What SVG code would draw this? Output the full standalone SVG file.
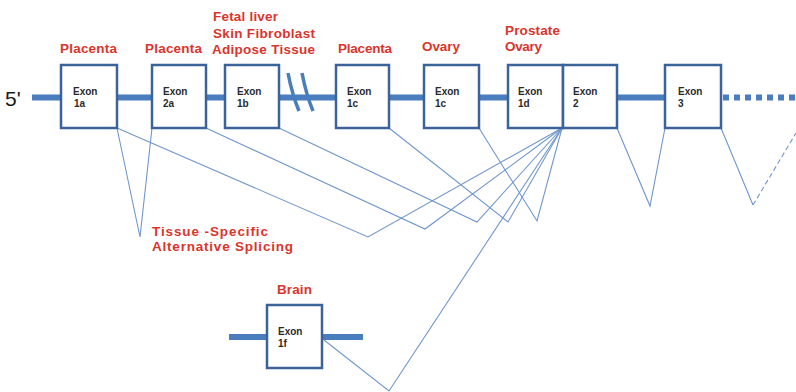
<svg xmlns="http://www.w3.org/2000/svg" width="796" height="392" viewBox="0 0 796 392">
<style>
.bb{stroke:#4a7dbd;stroke-width:6;fill:none}
.ex{fill:#fff;stroke:#3b639a;stroke-width:2.5}
.et{font-family:"Liberation Sans",Arial,sans-serif;font-size:10px;font-weight:bold;fill:#2a2a2a}
.lb{font-family:"Liberation Sans",Arial,sans-serif;font-size:13.5px;font-weight:bold;fill:#d9352c}
.sp{stroke:#7096cc;stroke-width:1.1;fill:none}
</style>
<rect width="796" height="392" fill="#fff"/>
<text x="5" y="106" font-family="Liberation Sans,Arial,sans-serif" font-size="21" fill="#1a1a1a">5'</text>
<g id="backbone">
<path class="bb" d="M32,97.5H61M117,97.5H152M206,97.5H225M279,97.5H336M389,97.5H424M479,97.5H508M617,97.5H665"/>
<path class="bb" d="M723,97.5H796" stroke-dasharray="6,5"/>
<path d="M288,73Q292,94 299,111M302,73Q306,94 313,111" stroke="#4a7dbd" stroke-width="3.5" fill="none"/>
<path class="bb" d="M229,337H267M322,337H363"/>
</g>
<g id="connectors">
<polyline class="sp" points="117,128 140,237 152,128"/>
<polyline class="sp" points="117,128 368,237 562,128"/>
<polyline class="sp" points="206,128 425,229 562,128"/>
<polyline class="sp" points="279,128 477,222 562,128"/>
<polyline class="sp" points="389,128 508,222 562,128"/>
<polyline class="sp" points="479,128 537,221 562,128"/>
<polyline class="sp" points="324,340 389,391 562,128"/>
<polyline class="sp" points="617,128 650,206 665,128"/>
<polyline class="sp" points="721,128 753,205"/>
<polyline class="sp" points="753,205 796,133" stroke-dasharray="5,3"/>
</g>
<g id="exon1a"><rect class="ex" x="61" y="65" width="56" height="63"/><text class="et" x="73" y="95">Exon</text><text class="et" x="74" y="107">1a</text></g>
<g id="exon2a"><rect class="ex" x="152" y="65" width="54" height="63"/><text class="et" x="163" y="95">Exon</text><text class="et" x="163" y="107">2a</text></g>
<g id="exon1b"><rect class="ex" x="225" y="65" width="54" height="63"/><text class="et" x="237" y="95">Exon</text><text class="et" x="237" y="107">1b</text></g>
<g id="exon1c"><rect class="ex" x="336" y="65" width="53" height="63"/><text class="et" x="347" y="95">Exon</text><text class="et" x="347" y="107">1c</text></g>
<g id="exon1c2"><rect class="ex" x="424" y="65" width="55" height="63"/><text class="et" x="435" y="95">Exon</text><text class="et" x="435" y="107">1c</text></g>
<g id="exon1d"><rect class="ex" x="508" y="65" width="55" height="63"/><text class="et" x="518" y="95">Exon</text><text class="et" x="518" y="107">1d</text></g>
<g id="exon2"><rect class="ex" x="563" y="65" width="54" height="63"/><text class="et" x="573" y="95">Exon</text><text class="et" x="573" y="107">2</text></g>
<g id="exon3"><rect class="ex" x="665" y="65" width="56" height="63"/><text class="et" x="678" y="95">Exon</text><text class="et" x="678" y="107">3</text></g>
<g id="exon1f"><rect class="ex" x="267" y="305" width="55" height="63"/><text class="et" x="278" y="335">Exon</text><text class="et" x="278" y="347">1f</text></g>
<g id="labels">
<text class="lb" x="60" y="53" textLength="57" lengthAdjust="spacing">Placenta</text>
<text class="lb" x="145" y="53" textLength="57" lengthAdjust="spacing">Placenta</text>
<text class="lb" x="213" y="21" textLength="65" lengthAdjust="spacing">Fetal liver</text>
<text class="lb" x="213" y="37.5" textLength="102" lengthAdjust="spacing">Skin Fibroblast</text>
<text class="lb" x="212" y="54" textLength="103" lengthAdjust="spacing">Adipose Tissue</text>
<text class="lb" x="338" y="53" textLength="54" lengthAdjust="spacing">Placenta</text>
<text class="lb" x="422" y="51" textLength="38" lengthAdjust="spacing">Ovary</text>
<text class="lb" x="505" y="35" textLength="55" lengthAdjust="spacing">Prostate</text>
<text class="lb" x="505" y="51" textLength="37" lengthAdjust="spacing">Ovary</text>
<text class="lb" x="152" y="236" textLength="116" lengthAdjust="spacing">Tissue -Specific</text>
<text class="lb" x="152" y="251" textLength="141" lengthAdjust="spacing">Alternative Splicing</text>
<text class="lb" x="277" y="294" textLength="35" lengthAdjust="spacing">Brain</text>
</g>
</svg>
